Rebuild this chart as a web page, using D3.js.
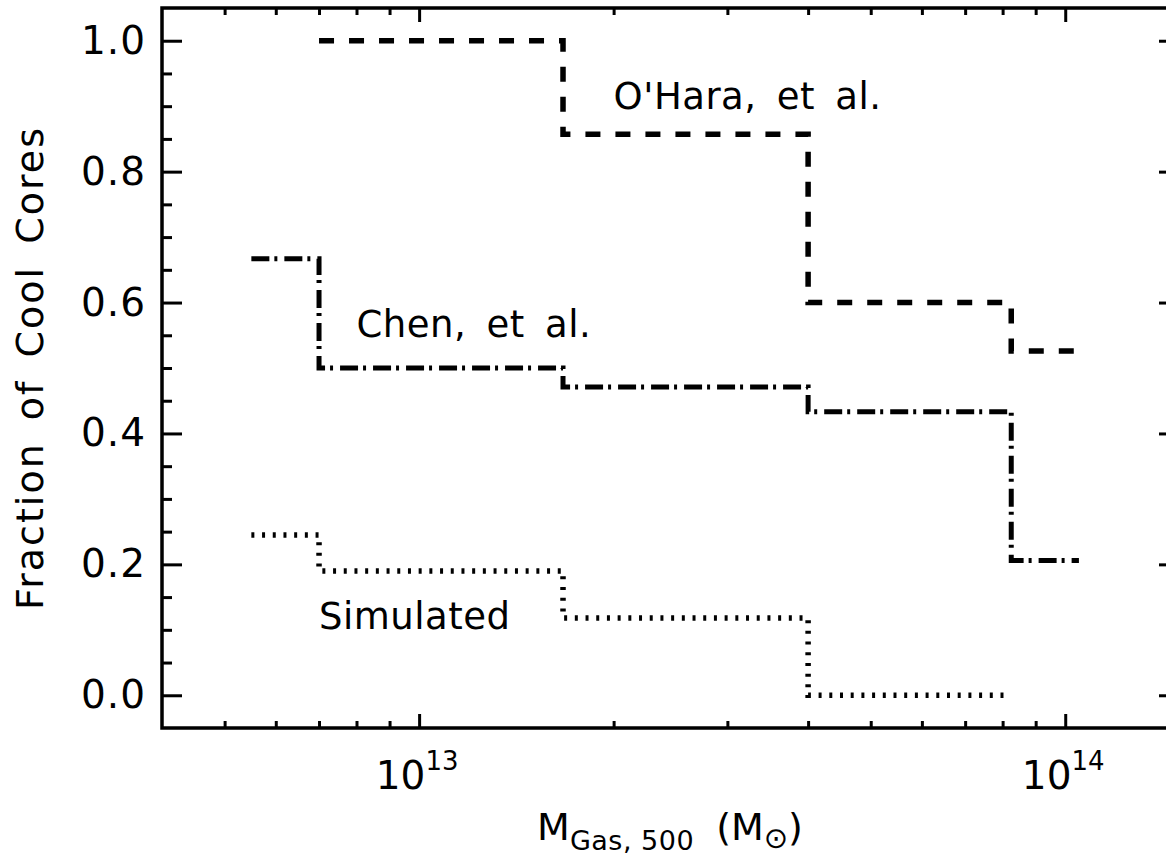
<!DOCTYPE html>
<html>
<head>
<meta charset="utf-8">
<script src="https://cdn.jsdelivr.net/npm/d3@7"></script>
<style>
  body { margin: 0; background: #fff; }
  text { font-family: "DejaVu Sans", sans-serif; fill: #000; }
</style>
</head>
<body>
<svg id="drawing_region"></svg>
<script>
// bin edges (gas mass, solar masses) and cool core fractions per bin
const ohara_edges = [7.0e12, 1.67e13, 4.0e13, 8.25e13, 1.05e14];
const ohara_frac  = [1.0, 0.857, 0.6, 0.526];

const chen_edges = [5.5e12, 7.0e12, 1.67e13, 4.0e13, 8.25e13, 1.05e14];
const chen_frac  = [0.667, 0.5, 0.471, 0.433, 0.206];

const sim_edges = [5.5e12, 7.0e12, 1.67e13, 4.0e13, 8.1e13];
const sim_frac  = [0.245, 0.19, 0.118, 0.0];

const x_major = [1e13, 1e14];
const x_major_exp = ["13", "14"];
const x_minor = [5e12, 6e12, 7e12, 8e12, 9e12, 2e13, 3e13, 4e13, 5e13, 6e13, 7e13, 8e13, 9e13];
const y_major = [0.0, 0.2, 0.4, 0.6, 0.8, 1.0];
const y_minor = d3.range(0, 21).map(i => i * 0.05).filter(v => Math.round(v * 100) % 20 != 0);

const label_names = ["O'Hara, et al.", "Chen, et al.", "Simulated"];
const label_x = [2.0e13, 8.0e12, 7.0e12];
const label_y = [0.895, 0.548, 0.102];

var config = {
    parent: '#drawing_region',
    width: 1166,
    height: 856,
    margin: {top: 8, right: -13, bottom: 128, left: 162}
};

class StepPlot {

    constructor( config ) {
        this.config = config;
        this.init();
    }

    init() {
        let self = this;
        let m = self.config.margin;

        self.svg = d3.select( self.config.parent )
            .attr('width', self.config.width)
            .attr('height', self.config.height);

        self.inner_width = self.config.width - m.left - m.right;
        self.inner_height = self.config.height - m.top - m.bottom;

        self.chart = self.svg.append('g')
            .attr('transform', `translate(${m.left}, ${m.top})`);

        self.xscale = d3.scaleLog()
            .domain([4e12, 1.5e14])
            .range([0, self.inner_width]);

        self.yscale = d3.scaleLinear()
            .domain([-0.05, 1.05])
            .range([self.inner_height, 0]);
    }

    axis_group( axis, tx, ty ) {
        let self = this;
        let g = self.chart.append('g')
            .attr('transform', `translate(${tx}, ${ty})`)
            .call( axis );
        g.select('.domain').remove();
        g.selectAll('.tick line')
            .attr('stroke', '#000')
            .attr('stroke-width', 3);
        return g;
    }

    render() {
        let self = this;
        let w = self.inner_width, h = self.inner_height;

        // x axes, bottom and top
        self.axis_group( d3.axisBottom(self.xscale).tickValues(x_major).tickSize(-14).tickFormat(""), 0, h );
        self.axis_group( d3.axisBottom(self.xscale).tickValues(x_minor).tickSize(-7).tickFormat(""), 0, h );
        self.axis_group( d3.axisTop(self.xscale).tickValues(x_major).tickSize(-14).tickFormat(""), 0, 0 );
        self.axis_group( d3.axisTop(self.xscale).tickValues(x_minor).tickSize(-7).tickFormat(""), 0, 0 );

        // y axes, left and right
        let yl = self.axis_group( d3.axisLeft(self.yscale).tickValues(y_major).tickSize(-20).tickPadding(16).tickFormat(d3.format(".1f")), 0, 0 );
        yl.selectAll('text')
            .attr('font-size', '39px')
            .attr('font-family', '"DejaVu Sans", sans-serif')
            .attr('letter-spacing', '1px')
            .attr('fill', '#000');
        self.axis_group( d3.axisLeft(self.yscale).tickValues(y_minor).tickSize(-10).tickFormat(""), 0, 0 );
        self.axis_group( d3.axisRight(self.yscale).tickValues(y_major).tickSize(-20).tickFormat(""), w, 0 );
        self.axis_group( d3.axisRight(self.yscale).tickValues(y_minor).tickSize(-10).tickFormat(""), w, 0 );

        // frame
        self.chart.append('rect')
            .attr('x', 0).attr('y', 0)
            .attr('width', w).attr('height', h)
            .attr('fill', 'none')
            .attr('stroke', '#000')
            .attr('stroke-width', 3.5);

        // 10^n labels
        x_major.forEach( (v, i) => {
            let t = self.chart.append('text')
                .attr('x', self.xscale(v) - 2)
                .attr('y', h + 61)
                .attr('text-anchor', 'middle')
                .attr('font-size', '39px');
            t.append('tspan').text("10");
            t.append('tspan')
                .attr('dy', -19)
                .attr('font-size', '26px')
                .text(x_major_exp[i]);
        });

        // step lines
        const styles = [
            {edges: ohara_edges, frac: ohara_frac, dash: "15,15", width: 5.5},
            {edges: chen_edges, frac: chen_frac, dash: "18,5,3,7", width: 5},
            {edges: sim_edges, frac: sim_frac, dash: "3,7.7", width: 5.5}
        ];
        const line = d3.line()
            .x( d => self.xscale(d[0]) )
            .y( d => self.yscale(d[1]) )
            .curve( d3.curveStepAfter );

        styles.forEach( s => {
            let pts = s.frac.map( (f, i) => [s.edges[i], f] );
            pts.push( [s.edges[s.edges.length - 1], s.frac[s.frac.length - 1]] );
            self.chart.append('path')
                .attr('d', line(pts))
                .attr('fill', 'none')
                .attr('stroke', '#000')
                .attr('stroke-width', s.width)
                .attr('stroke-dasharray', s.dash);
        });

        // labels in the plot
        label_names.forEach( (n, i) => {
            self.chart.append('text')
                .attr('x', self.xscale(label_x[i]))
                .attr('y', self.yscale(label_y[i]))
                .attr('font-size', '37px')
                .attr('word-spacing', '8px')
                .attr('letter-spacing', '0.5px')
                .text(n);
        });

        // axis titles
        let xt = self.svg.append('text')
            .attr('x', 670)
            .attr('y', 840)
            .attr('text-anchor', 'middle')
            .attr('font-size', '38px');
        xt.append('tspan').text("M");
        xt.append('tspan').attr('dy', 10).attr('font-size', '27px').attr('letter-spacing', '0.5px').text("Gas, 500");
        xt.append('tspan').attr('dy', -10).attr('dx', 22).text("(M");
        xt.append('tspan').attr('dy', 8).attr('font-size', '29px').text("\u2299");
        xt.append('tspan').attr('dy', -8).text(")");

        self.svg.append('text')
            .attr('transform', `translate(43, ${self.config.margin.top + h / 2}) rotate(-90)`)
            .attr('text-anchor', 'middle')
            .attr('font-size', '38px')
            .attr('letter-spacing', '2px')
            .attr('word-spacing', '8px')
            .text("Fraction of Cool Cores");
    }
}

const step_plot = new StepPlot( config );
step_plot.render();
</script>
</body>
</html>
